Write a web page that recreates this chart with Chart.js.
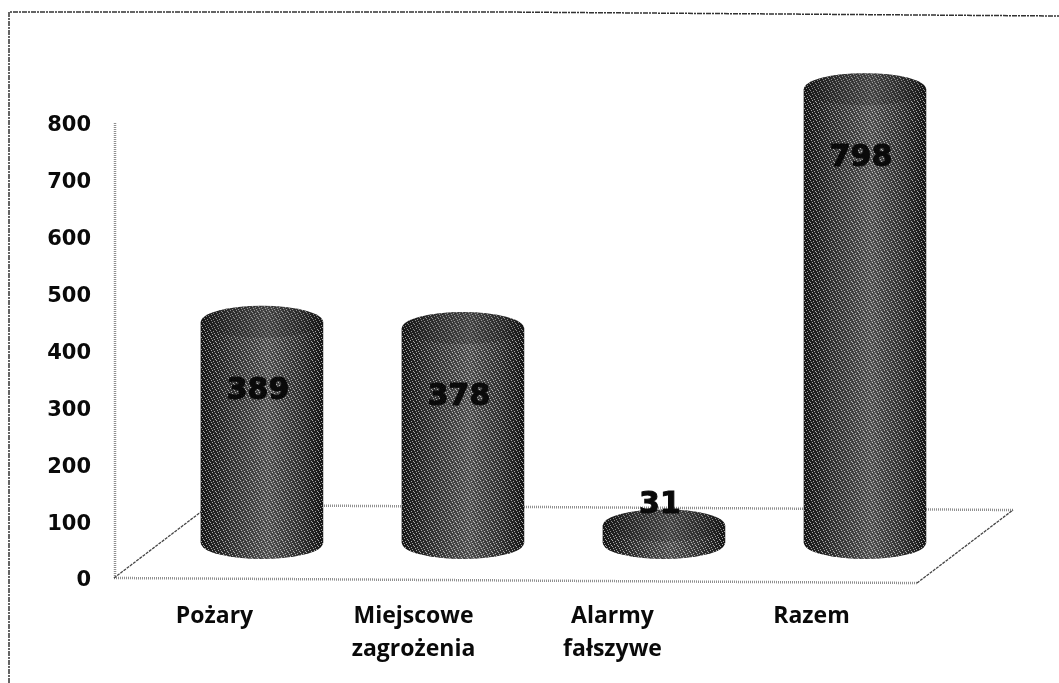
<!DOCTYPE html>
<html lang="pl">
<head>
<meta charset="utf-8">
<style>html,body{margin:0;padding:0;background:#fff}canvas{display:block}</style>
<script src="https://cdn.jsdelivr.net/npm/chart.js@4"></script>
</head>
<body>
<canvas id="c" width="1059" height="683"></canvas>
<script>
const categories = [['Pożary'], ['Miejscowe', 'zagrożenia'], ['Alarmy', 'fałszywe'], ['Razem']];
const values = [389, 378, 31, 798];
const yTicks = [0, 100, 200, 300, 400, 500, 600, 700, 800];

const TICK_FONT = 'DejaVu Sans';
const LABEL_FONT = 'Open Sans';

function ditherPattern(ctx) {
  const t = document.createElement('canvas');
  t.width = 6; t.height = 6;
  const g = t.getContext('2d');
  g.fillStyle = 'rgba(255,255,255,0.6)';
  [[0,0],[3,1],[1,2],[4,3],[2,4],[5,5]].forEach(p => g.fillRect(p[0], p[1], 1, 1));
  g.fillStyle = 'rgba(0,0,0,0.4)';
  [[2,0],[5,1],[0,3],[3,4],[1,5],[4,2]].forEach(p => g.fillRect(p[0], p[1], 1, 1));
  return ctx.createPattern(t, 'repeat');
}

const stagePlugin = {
  id: 'stage',
  beforeDraw(chart) {
    const c = chart.ctx;
    c.save();
    c.fillStyle = '#fff';
    c.fillRect(0, 0, chart.width, chart.height);
    c.strokeStyle = '#333';
    c.lineWidth = 1.5;
    c.setLineDash([5, 1, 2, 1]);
    c.beginPath();
    c.moveTo(9, 683); c.lineTo(9, 12); c.lineTo(500, 12); c.lineTo(1059, 16);
    c.stroke();
    c.restore();
  },
  beforeDatasetsDraw(chart) {
    const c = chart.ctx, a = chart.chartArea;
    const floorY = a.bottom - 3;
    const fl = [a.left - 1, floorY], fr = [a.right + 6, floorY + 5];
    const depthX = 96, depthY = -73;
    const bl = [fl[0] + depthX, fl[1] + depthY], br = [fr[0] + depthX, fr[1] + depthY];
    c.save();
    c.lineWidth = 2.5;
    c.setLineDash([1, 1]);
    c.strokeStyle = '#8f8f8f';
    c.beginPath();
    c.moveTo(a.left, a.top - 3); c.lineTo(a.left, floorY);
    c.moveTo(fl[0], fl[1]); c.lineTo(fr[0], fr[1]);
    c.moveTo(bl[0], bl[1]); c.lineTo(br[0], br[1]);
    c.stroke();
    c.setLineDash([3, 1]);
    c.strokeStyle = '#444';
    c.lineWidth = 1.3;
    c.beginPath();
    c.moveTo(fl[0], fl[1]); c.lineTo(bl[0], bl[1]);
    c.moveTo(fr[0], fr[1]); c.lineTo(br[0], br[1]);
    c.stroke();
    c.restore();
  },
  afterDatasetsDraw(chart) {
    const c = chart.ctx;
    const pat = ditherPattern(c);
    const ry = 16;
    chart.getDatasetMeta(0).data.forEach((bar, i) => {
      const rx = bar.width / 2, x = bar.x, top = bar.y, base = bar.base;
      const g = c.createLinearGradient(x - rx, 0, x + rx, 0);
      g.addColorStop(0, '#181818');
      g.addColorStop(0.25, '#3a3a3a');
      g.addColorStop(0.55, '#5c5c5c');
      g.addColorStop(0.8, '#3a3a3a');
      g.addColorStop(1, '#181818');
      c.save();
      c.beginPath();
      c.ellipse(x, top, rx, ry, 0, Math.PI, 0);
      c.lineTo(x + rx, base);
      c.ellipse(x, base, rx, ry, 0, 0, Math.PI);
      c.closePath();
      c.fillStyle = g;
      c.fill();
      c.fillStyle = pat;
      c.fill();
      c.beginPath();
      c.ellipse(x, top, rx, ry, 0, 0, Math.PI * 2);
      c.fillStyle = 'rgba(25,25,25,0.2)';
      c.fill();
      c.restore();

      c.save();
      c.font = 'bold 30px "' + TICK_FONT + '"';
      c.textAlign = 'center';
      c.textBaseline = 'middle';
      c.fillStyle = '#0a0a0a';
      c.strokeStyle = '#0a0a0a';
      c.lineWidth = 1;
      const tall = base - top > 60;
      const lx = x - 4, ly = tall ? top + 69 : top - 20;
      c.fillText(String(values[i]), lx, ly);
      c.strokeText(String(values[i]), lx, ly);
      c.restore();
    });
  }
};

new Chart(document.getElementById('c'), {
  type: 'bar',
  plugins: [stagePlugin],
  data: {
    datasets: [{
      data: values.map((v, i) => ({ x: i, y: v })),
      xAxisID: 'x1',
      yAxisID: 'y1',
      backgroundColor: '#3a3a3a',
      barThickness: 122,
      clip: false
    }]
  },
  options: {
    responsive: false,
    animation: false,
    layout: { padding: { top: 126, right: 148, left: 0, bottom: 0 } },
    plugins: { legend: { display: false }, tooltip: { enabled: false }, title: { display: false } },
    scales: {
      x: {
        type: 'category',
        labels: categories,
        grid: { display: false, drawTicks: false },
        border: { display: false },
        afterFit(s) { s.height = 102; },
        ticks: {
          color: '#0a0a0a',
          padding: 19,
          autoSkip: false,
          maxRotation: 0,
          font: { family: LABEL_FONT, weight: 'bold', size: 23, lineHeight: 1.43 }
        }
      },
      y: {
        type: 'linear',
        min: yTicks[0],
        max: yTicks[yTicks.length - 1],
        afterFit(s) { s.width = 115; },
        grid: { display: false, drawTicks: false },
        border: { display: false },
        ticks: {
          color: '#0a0a0a',
          stepSize: 100,
          padding: 24,
          font: { family: TICK_FONT, weight: 'bold', size: 21 }
        }
      },
      x1: { type: 'linear', axis: 'x', display: false, offset: false, min: -0.731, max: 3.229 },
      y1: { type: 'linear', axis: 'y', display: false, min: -66.8, max: 733.2 }
    }
  }
});
</script>
</body>
</html>
